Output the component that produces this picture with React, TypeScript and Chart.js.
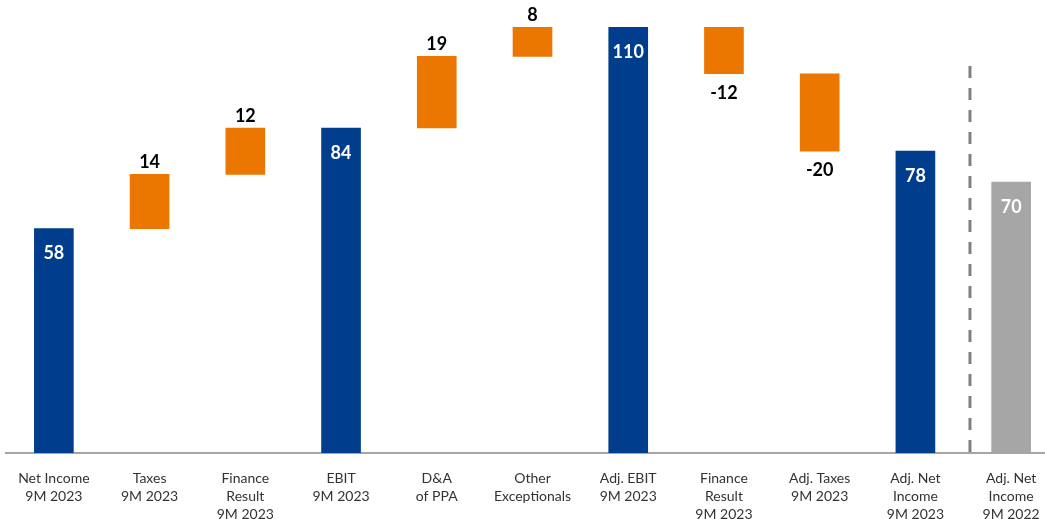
import React, { useEffect, useRef } from "react";
import { Chart, registerables } from "chart.js";

Chart.register(...registerables);

const categories: string[][] = [
  ["Net Income", "9M 2023"],
  ["Taxes", "9M 2023"],
  ["Finance", "Result", "9M 2023"],
  ["EBIT", "9M 2023"],
  ["D&A", "of PPA"],
  ["Other", "Exceptionals"],
  ["Adj. EBIT", "9M 2023"],
  ["Finance", "Result", "9M 2023"],
  ["Adj. Taxes", "9M 2023"],
  ["Adj. Net", "Income", "9M 2023"],
  ["Adj. Net", "Income", "9M 2022"],
];

const barStarts = [0, 58, 72, 0, 84, 102.5, 0, 98, 78, 0, 0];
const barEnds = [58, 72, 84, 84, 102.5, 110, 110, 110, 98, 78, 70];
const valueLabels = ["58", "14", "12", "84", "19", "8", "110", "-12", "-20", "78", "70"];
const kinds = ["total", "up", "up", "total", "up", "up", "total", "down", "down", "total", "prior"];

const BLUE = "#003D8C";
const ORANGE = "#EC7700";
const GRAY = "#A6A6A6";
const FONT = "Lato, 'Open Sans', sans-serif";

const colorFor = (k: string) => (k === "total" ? BLUE : k === "prior" ? GRAY : ORANGE);

const labelPlugin = {
  id: "wfLabels",
  afterDatasetsDraw(chart: any) {
    const ctx = chart.ctx;
    const meta = chart.getDatasetMeta(0);
    ctx.save();
    ctx.font = `bold 18px ${FONT}`;
    ctx.textAlign = "center";
    ctx.textBaseline = "middle";
    meta.data.forEach((bar: any, i: number) => {
      const k = kinds[i];
      const top = Math.min(bar.y, bar.base);
      const bottom = Math.max(bar.y, bar.base);
      let y: number;
      if (k === "total" || k === "prior") {
        ctx.fillStyle = "#ffffff";
        y = top + 25;
      } else if (k === "up") {
        ctx.fillStyle = "#000000";
        y = top - 12;
      } else {
        ctx.fillStyle = "#000000";
        y = bottom + 19;
      }
      ctx.fillText(valueLabels[i], bar.x, y);
    });
    // dashed separator between the last two categories
    const xs = chart.scales.x;
    const ys = chart.scales.y;
    const x0 = xs.getPixelForValue(9);
    const x1 = xs.getPixelForValue(10);
    const sx = x0 + (x1 - x0) * 0.57;
    ctx.strokeStyle = "#808080";
    ctx.lineWidth = 3;
    ctx.setLineDash([12, 10]);
    ctx.beginPath();
    ctx.moveTo(sx, ys.getPixelForValue(100));
    ctx.lineTo(sx, ys.getPixelForValue(0));
    ctx.stroke();
    ctx.restore();
  },
};

export default function App() {
  const ref = useRef<HTMLCanvasElement>(null);
  useEffect(() => {
    if (!ref.current) return;
    const data = barStarts.map((s, i) => [s, barEnds[i]]);
    const chart = new Chart(ref.current, {
      type: "bar",
      data: {
        labels: categories as any,
        datasets: [
          {
            data: data as any,
            backgroundColor: kinds.map(colorFor),
            borderWidth: 0,
            barThickness: 39,
            borderSkipped: false,
          },
        ],
      },
      options: {
        responsive: false,
        animation: false,
        layout: { padding: { left: 6, right: 0, top: 8, bottom: 0 } },
        plugins: { legend: { display: false }, tooltip: { enabled: false } },
        scales: {
          x: {
            grid: { display: false },
            border: { display: true, color: "#A6A6A6", width: 2 },
            ticks: {
              color: "#333333",
              font: { family: FONT, size: 14, lineHeight: 1.3 },
              padding: 8,
              maxRotation: 0,
              autoSkip: false,
            },
            afterFit: (scale: any) => {
              scale.height = 66;
            },
          },
          y: {
            display: false,
            min: 0,
            max: 115,
          },
        },
      },
      plugins: [labelPlugin],
    });
    return () => chart.destroy();
  }, []);
  return (
    <div
      style={{
        position: "fixed",
        left: 0,
        top: 0,
        width: 1045,
        height: 519,
        overflow: "hidden",
        background: "#fff",
      }}
    >
      <canvas ref={ref} width={1059} height={519} style={{ width: 1059, height: 519, display: "block" }} />
    </div>
  );
}
